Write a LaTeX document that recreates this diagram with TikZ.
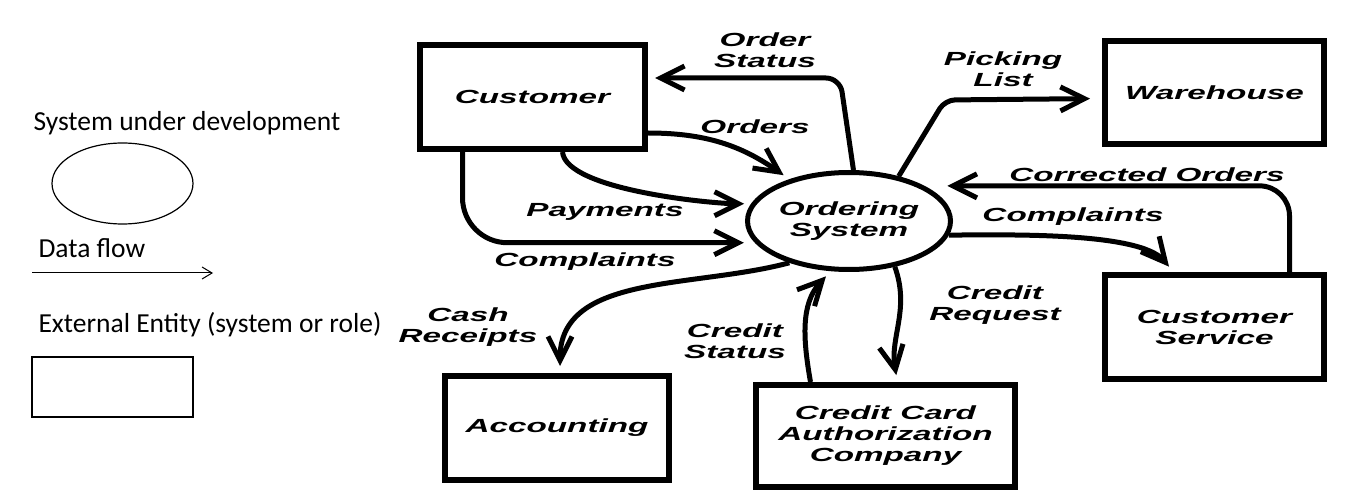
\documentclass[tikz,border=0pt]{standalone}
\usepackage{fontspec}
\setmainfont{Carlito}
\newfontfamily\dfdfont[FakeStretch=1.75]{Liberation Sans}
\usetikzlibrary{arrows.meta,shapes.geometric,positioning}

\begin{document}
\begin{tikzpicture}[x=1pt,y=-1pt,
    dfd font/.style={font=\dfdfont\bfseries\itshape\fontsize{19}{21}\selectfont},
    entity node/.style={draw,line width=6pt,minimum width=#1,minimum height=104pt,inner sep=0pt,align=center,dfd font},
    entity node/.default=225pt,
    process node/.style={draw,ellipse,line width=5pt,minimum width=203pt,minimum height=97pt,inner sep=0pt,align=center,dfd font},
    flow label/.style={align=center,dfd font},
    flow/.style={line width=5pt,-{Straight Barb[length=24pt,width=24pt]},shorten >=7pt},
    legend text/.style={anchor=base west,font=\fontsize{27.5}{32}\selectfont},
    legend shape/.style={draw,line width=1.2pt,inner sep=0pt}]
    \useasboundingbox (0,0) rectangle (1354,494);

    \node[legend text] (lblsud) at (30,131) {System under development};
    \node[legend shape,ellipse,minimum width=141pt,minimum height=81pt] (legendsys) at (122.5,183.5) {};
    \node[legend text] (lbldf) at (35,258) {Data flow};
    \coordinate (dfstart) at (32,273);
    \coordinate (dfend) at (213,273);
    \node[legend text] (lblee) at (35,332) {External Entity (system or role)};
    \node[legend shape,minimum width=161pt,minimum height=60pt] (legendext) at (112.5,387) {};
    \draw[line width=1pt,-{Straight Barb[length=10pt,width=12pt]}] (dfstart) -- (dfend);

    \node[entity node] (customer) at (532.5,97) {Customer};
    \node[entity node=219pt,minimum height=103pt] (warehouse) at (1214.5,92.5) {Warehouse};
    \node[entity node=219pt] (custserv) at (1214.5,327) {Customer\\Service};
    \node[entity node=224pt] (accounting) at (557,428) {Accounting};
    \node[entity node=259pt,minimum height=102pt] (ccauth) at (885.5,436) {Credit Card\\Authorization\\Company};
    \node[process node] (sys) at (849,221) {Ordering\\System};

    \coordinate (osbend) at (840,78);
    \coordinate (plbend) at (945,100);

    \node[flow label] (lblorderstatus) at (765,50) {Order\\Status};
    \node[flow label] (lblorders) at (755,127) {Orders};
    \node[flow label] (lblpayments) at (605,212) {Payments};
    \node[flow label] (lblcomplaints) at (585,262) {Complaints};
    \node[flow label] (lblpicking) at (1003,69) {Picking\\List};
    \node[flow label] (lblcorrected) at (1147,175) {Corrected Orders};
    \node[flow label] (lblcomplaints2) at (1073,217) {Complaints};
    \node[flow label] (lblrequest) at (995,305) {Credit\\Request};
    \node[flow label] (lblcash) at (468,327) {Cash\\Receipts};
    \node[flow label] (lblstatus) at (735,341) {Credit\\Status};

    \path[flow]
        (sys.85) edge[rounded corners=14pt,to path={-- (osbend) -- (\tikztotarget)}] ([yshift=19pt]customer.east)
        ([yshift=-36pt]customer.east) edge[out=0,in=145] (sys.145)
        ([xshift=30pt]customer.south) edge[out=-85,in=180,looseness=0.5] (sys.170)
        ([xshift=-70pt]customer.south) edge[rounded corners=45pt,shorten >=11pt,to path={|- (\tikztotarget)}] (sys.193)
        (sys.42) edge[rounded corners=10pt,shorten >=12pt,to path={-- (plbend) -- (\tikztotarget)}] ([yshift=-6pt]warehouse.west)
        ([xshift=75pt]custserv.north) edge[rounded corners=30pt,shorten >=23pt,to path={|- (\tikztotarget)}] (sys.25)
        (sys.-8) edge[out=0,in=130,looseness=0.6] ([xshift=-41pt]custserv.north)
        (sys.215) edge[out=195,in=90] ([xshift=3pt]accounting.north)
        ([xshift=-75pt]ccauth.north) edge[out=100,in=227] (sys.250)
        (sys.315) edge[out=-70,in=100] ([xshift=12pt]ccauth.north);
\end{tikzpicture}
\end{document}
